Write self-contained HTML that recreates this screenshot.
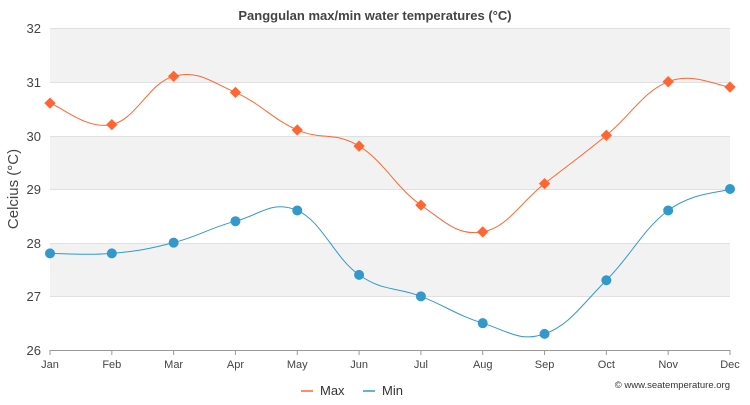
<!DOCTYPE html>
<html><head><meta charset="utf-8"><style>
body{margin:0;background:#fff;font-family:"Liberation Sans",sans-serif}
</style></head><body>
<svg id="s" width="750" height="400" xmlns="http://www.w3.org/2000/svg" font-family="Liberation Sans, sans-serif">
<rect x="50" y="28" width="680" height="54" fill="#f2f2f2"/>
<rect x="50" y="136" width="680" height="53" fill="#f2f2f2"/>
<rect x="50" y="243" width="680" height="53" fill="#f2f2f2"/>
<g stroke="#e0e0e0" stroke-width="1">
<line x1="50" x2="730" y1="28.5" y2="28.5"/><line x1="50" x2="730" y1="82.5" y2="82.5"/>
<line x1="50" x2="730" y1="136.5" y2="136.5"/><line x1="50" x2="730" y1="189.5" y2="189.5"/>
<line x1="50" x2="730" y1="243.5" y2="243.5"/><line x1="50" x2="730" y1="296.5" y2="296.5"/>
</g>
<line x1="50" x2="730" y1="350.5" y2="350.5" stroke="#999"/>
<text x="375" y="20" text-anchor="middle" font-size="13" font-weight="bold" fill="#444">Panggulan max/min water temperatures (°C)</text>
<g font-size="13" fill="#444" text-anchor="end">
<text x="41" y="33">32</text><text x="41" y="87">31</text><text x="41" y="141">30</text><text x="41" y="194">29</text><text x="41" y="248">28</text><text x="41" y="301">27</text><text x="41" y="355">26</text>
</g>
<text transform="translate(18,189) rotate(-90)" text-anchor="middle" font-size="15" fill="#444">Celcius (°C)</text>
<g id="xl" font-size="11" fill="#444" text-anchor="middle"></g>
<g id="series"></g>
<line x1="301" x2="313" y1="391" y2="391" stroke="#ff6633" stroke-width="1.5"/>
<text x="320" y="395" font-size="13" fill="#333">Max</text>
<line x1="363" x2="375" y1="391" y2="391" stroke="#3399cc" stroke-width="1.5"/>
<text x="382" y="395" font-size="13" fill="#333">Min</text>
<text x="730" y="388" text-anchor="end" font-size="9.5" fill="#333">© www.seatemperature.org</text>
</svg>
<script>
const m=["Jan","Feb","Mar","Apr","May","Jun","Jul","Aug","Sep","Oct","Nov","Dec"];
const X=i=>50+i*680/11, Y=v=>350-(v-26)*322/6;
const xl=document.getElementById("xl");let h="";
m.forEach((t,i)=>{h+=`<text x="${X(i)}" y="368">${t}</text><line x1="${X(i)}" x2="${X(i)}" y1="350" y2="355" stroke="#999"/>`});
xl.innerHTML=h;
const mx=[30.6,30.2,31.1,30.8,30.1,29.8,28.7,28.2,29.1,30.0,31.0,30.9];
const mn=[27.8,27.8,28.0,28.4,28.6,27.4,27.0,26.5,26.3,27.3,28.6,29.0];
function path(d){const p=d.map((v,i)=>[X(i),Y(v)]);let s=`M${p[0]}`;
for(let i=0;i<p.length-1;i++){const a=p[i-1]||p[i],b=p[i],c=p[i+1],e=p[i+2]||c;const k=0.2;
s+=` C${b[0]+(c[0]-a[0])*k},${b[1]+(c[1]-a[1])*k} ${c[0]-(e[0]-b[0])*k},${c[1]-(e[1]-b[1])*k} ${c[0]},${c[1]}`;}return s;}
let g=`<path d="${path(mx)}" fill="none" stroke="#ff6633" stroke-width="1"/><path d="${path(mn)}" fill="none" stroke="#3399cc" stroke-width="1"/>`;
mx.forEach((v,i)=>{const x=X(i),y=Y(v);g+=`<rect x="${x-4}" y="${y-4}" width="8" height="8" fill="#ff6633" transform="rotate(45 ${x} ${y})"/>`});
mn.forEach((v,i)=>{g+=`<circle cx="${X(i)}" cy="${Y(v)}" r="5" fill="#3399cc"/>`});
document.getElementById("series").innerHTML=g;
</script>
</body></html>
